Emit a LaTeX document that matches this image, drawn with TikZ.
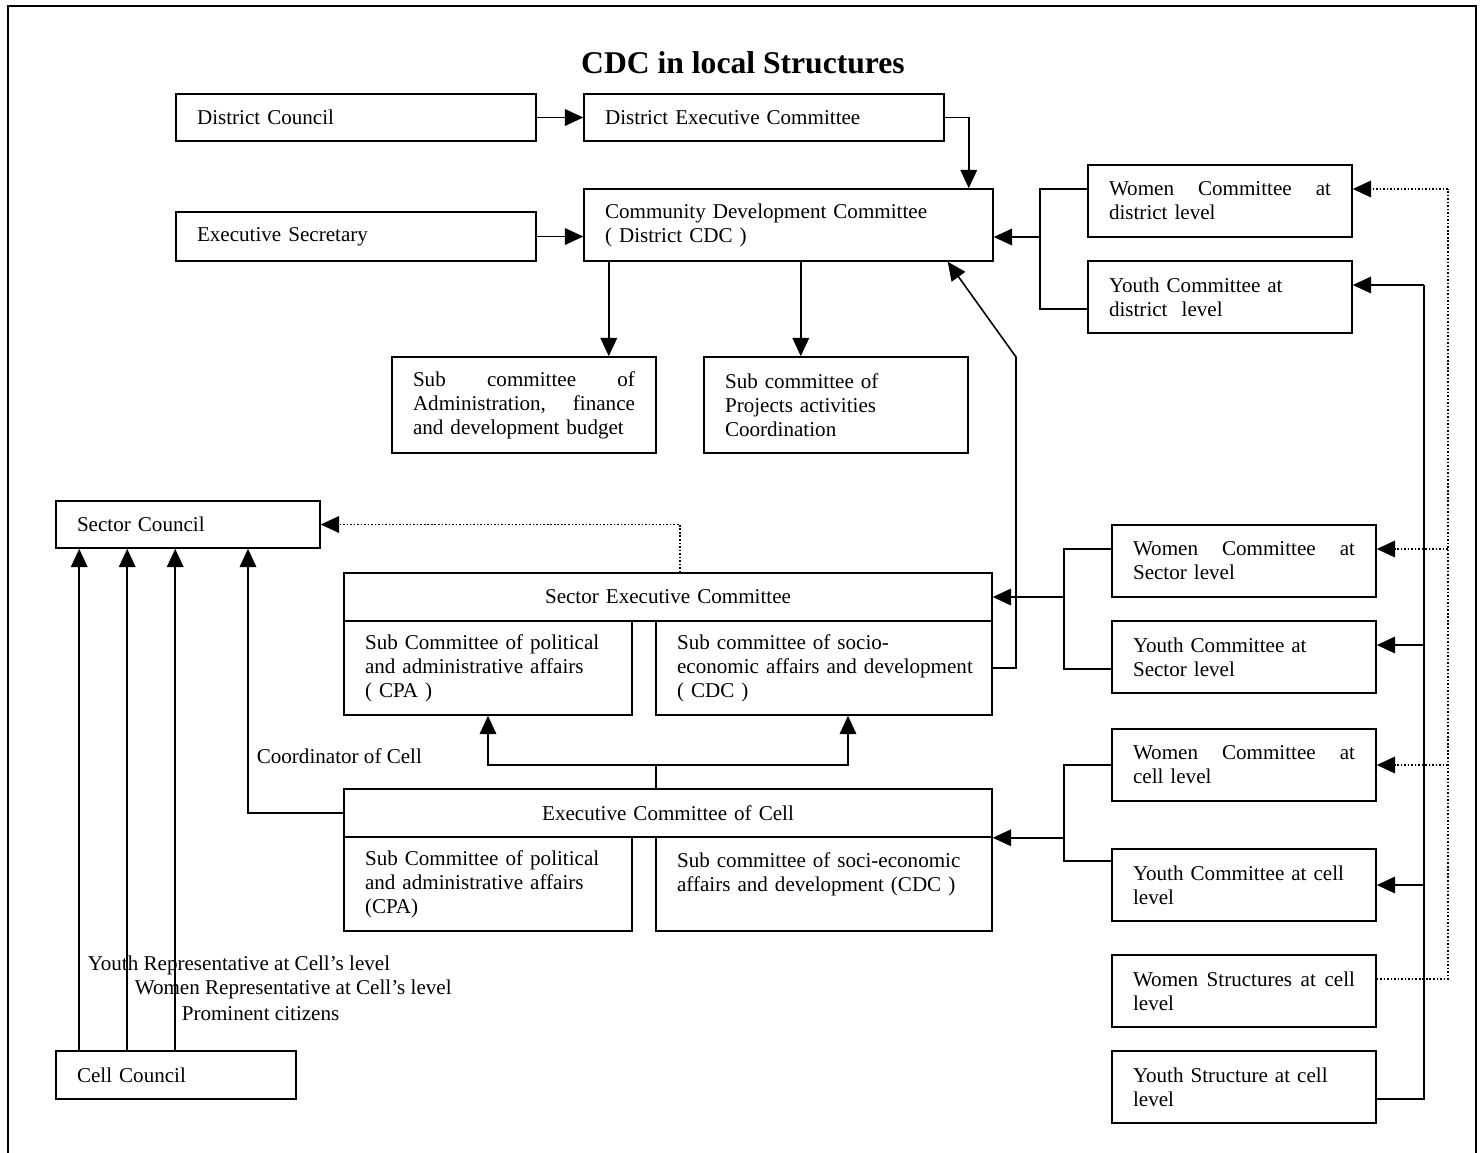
\documentclass[tikz,border=0pt]{standalone}
\usepackage{fontspec}
\setmainfont{Liberation Serif}
\usetikzlibrary{positioning,arrows.meta}

\begin{document}
\begin{tikzpicture}[x=0.02cm, y=-0.02cm, >={Triangle[length=10.5pt,width=9.5pt]}, line width=0.9pt,
    every node/.style={font=\fontsize{12}{13.6}\selectfont}]
  \tikzstyle{orgbox}=[draw, line width=0.9pt, inner xsep=0.42cm, inner ysep=0pt, align=left]
  \tikzstyle{widebox}=[orgbox, text width=6.36cm, minimum height=0.94cm]
  \tikzstyle{sidebox}=[orgbox, text width=4.44cm, minimum height=1.44cm]
  \tikzstyle{headbox}=[orgbox, text width=12.12cm, minimum height=0.96cm, align=center]
  \tikzstyle{cpabox}=[orgbox, text width=4.92cm, minimum height=1.88cm]
  \tikzstyle{cdcbox}=[orgbox, text width=5.88cm, minimum height=1.88cm]
  \tikzstyle{dots}=[line width=1pt, dash pattern=on 0.9pt off 1.1pt]
  \useasboundingbox (0,0) rectangle (1482,1153);
  \draw (8,1153) -- (8,6) -- (1476,6) -- (1476,1153);

  \node[font=\fontsize{18}{21}\selectfont\bfseries] (title) at (743,63) {CDC in local Structures};

  % district level
  \node[widebox] (dc) at (356,117.5) {District Council};
  \node[widebox] (dec) at (764,117.5) {District Executive Committee};
  \node[orgbox, text width=7.34cm, minimum height=1.44cm] (ddc) at (788.5,225) {Community Development Committee\\( District CDC )};
  \node[widebox, minimum height=0.98cm] (es) at (356,236.5) {Executive Secretary};
  \node[sidebox] (wdist) at (1220,201) {Women\hfill Committee\hfill at\\district level};
  \node[sidebox] (ydist) at (1220,297) {Youth Committee at\\district\ \ level};
  \node[sidebox, minimum height=1.92cm] (subadm) at (524,405) {Sub\hfill committee\hfill of\\Administration,\hfill finance\\and development budget};
  \node[sidebox, minimum height=1.92cm] (subproj) at (836,405) {Sub committee of\\Projects activities\\Coordination};

  % sector level
  \node[orgbox, text width=4.44cm, minimum height=0.94cm] (secc) at (188,524.5) {Sector Council};
  \node[headbox] (sex) at (668,597) {Sector Executive Committee};
  \node[cpabox] (sexcpa) at (488,668) {Sub Committee of political\\and administrative affairs\\( CPA )};
  \node[cdcbox] (sexcdc) at (824,668) {Sub committee of socio-\\\mbox{economic affairs and development}\\( CDC )};
  \node[sidebox] (wsec) at (1244,561) {Women\hfill Committee\hfill at\\Sector level};
  \node[sidebox] (ysec) at (1244,657) {Youth Committee at\\Sector level};

  % cell level
  \node[headbox] (cex) at (668,813) {Executive Committee of Cell};
  \node[cpabox] (cexcpa) at (488,884) {Sub Committee of political\\and administrative affairs\\(CPA)};
  \node[cdcbox] (cexcdc) at (824,884) {Sub committee of soci-economic\\affairs and development (CDC )\\~};
  \node[sidebox] (wcell) at (1244,765) {Women\hfill Committee\hfill at\\cell level};
  \node[sidebox] (ycell) at (1244,885) {Youth Committee at cell\\level};
  \node[sidebox] (wstr) at (1244,991) {Women\hfill Structures\hfill at\hfill cell\\level};
  \node[sidebox] (ystr) at (1244,1087) {Youth Structure at cell\\level};
  \node[orgbox, text width=3.96cm, minimum height=0.96cm] (cellc) at (176,1075) {Cell Council};

  \node[anchor=west, inner sep=0pt] (coordlbl) at (256,756) {Coordinator of Cell};
  \node[anchor=west, inner sep=0pt] (yreplbl) at (87,965) {Youth Representative at Cell’s level};
  \node[anchor=west, inner sep=0pt] (wreplbl) at (134,989) {Women Representative at Cell’s level};
  \node[anchor=west, inner sep=0pt] (citlbl) at (181,1014) {Prominent citizens};

  % connection points
  \coordinate (decin) at ([xshift=-0.5cm]ddc.north east);
  \coordinate (admin) at ([xshift=-0.96cm]subadm.north east);
  \coordinate (projin) at ([xshift=-3.36cm]subproj.north east);
  \coordinate (ddcin) at ([xshift=-0.92cm]ddc.south east);
  \coordinate (wdout) at ([yshift=0.24cm]wdist.west);
  \coordinate (ydout) at ([yshift=-0.24cm]ydist.west);
  \coordinate (dj) at (1040,237);
  \coordinate (wsout) at ([yshift=0.24cm]wsec.west);
  \coordinate (ysout) at ([yshift=-0.24cm]ysec.west);
  \coordinate (sj) at (1064,597);
  \coordinate (ycout) at ([yshift=0.48cm]ycell.west);
  \coordinate (cj) at (656,765);
  \coordinate (cdcin) at ([xshift=0.48cm]sexcdc.south);
  \coordinate (coordin) at ([xshift=1.2cm]secc.south);
  \coordinate (yrep) at ([xshift=0.48cm]cellc.north west);
  \coordinate (wrep) at ([xshift=1.44cm]cellc.north west);
  \coordinate (cit) at ([xshift=2.4cm]cellc.north west);
  \coordinate (yrail) at (1424,285);
  \coordinate (wrail) at (1448,189);
  \coordinate (ystrout) at ([yshift=-0.24cm]ystr.east);
  \coordinate (wstrout) at ([yshift=0.24cm]wstr.east);
  \coordinate (ysecin) at ([yshift=0.24cm]ysec.east);
  \coordinate (wsecin) at ([yshift=0.24cm]wsec.east);

  \draw[->] (dc) -- (dec);
  \draw[->] (dec.east) -| (decin);
  \draw[->] (es.east) -- (es.east -| ddc.west);
  \draw (wdout) -| (dj) |- (ydout);
  \draw[->] (dj) -- (dj -| ddc.east);
  \draw[->] (admin |- ddc.south) -- (admin);
  \draw[->] (projin |- ddc.south) -- (projin);
  \draw[->] (sexcdc.east) -- (1016,668) -- (1016,357) -- (ddcin);

  \draw (wsout) -| (sj) |- (ysout);
  \draw[->] (sj) -- (sex.east);
  \draw[dots, ->] ([xshift=0.24cm]sex.north) |- (secc.east);

  \draw (wcell.west) -| (ycout -| sj) -- (ycout);
  \draw[->] (sj |- cex.south) -- (cex.south east);
  \draw (cj |- cex.north) -- (cj);
  \draw[->] (cj) -| (sexcpa.south);
  \draw[->] (cj) -| (cdcin);
  \draw[->] (cex.west) -| (coordin);

  \draw[->] (yrep) -- (yrep |- secc.south);
  \draw[->] (wrep) -- (wrep |- secc.south);
  \draw[->] (cit) -- (cit |- secc.south);

  % youth and women rails
  \draw (ystrout) -| (yrail);
  \draw[->] (yrail) -- (yrail -| ydist.east);
  \draw[->] (ysecin -| yrail) -- (ysecin);
  \draw[->] (ycell.east -| yrail) -- (ycell.east);
  \draw[dots] (wstrout) -| (wrail);
  \draw[dots, ->] (wrail) -- (wrail -| wdist.east);
  \draw[dots, ->] (wsecin -| wrail) -- (wsecin);
  \draw[dots, ->] (wcell.east -| wrail) -- (wcell.east);
\end{tikzpicture}
\end{document}
